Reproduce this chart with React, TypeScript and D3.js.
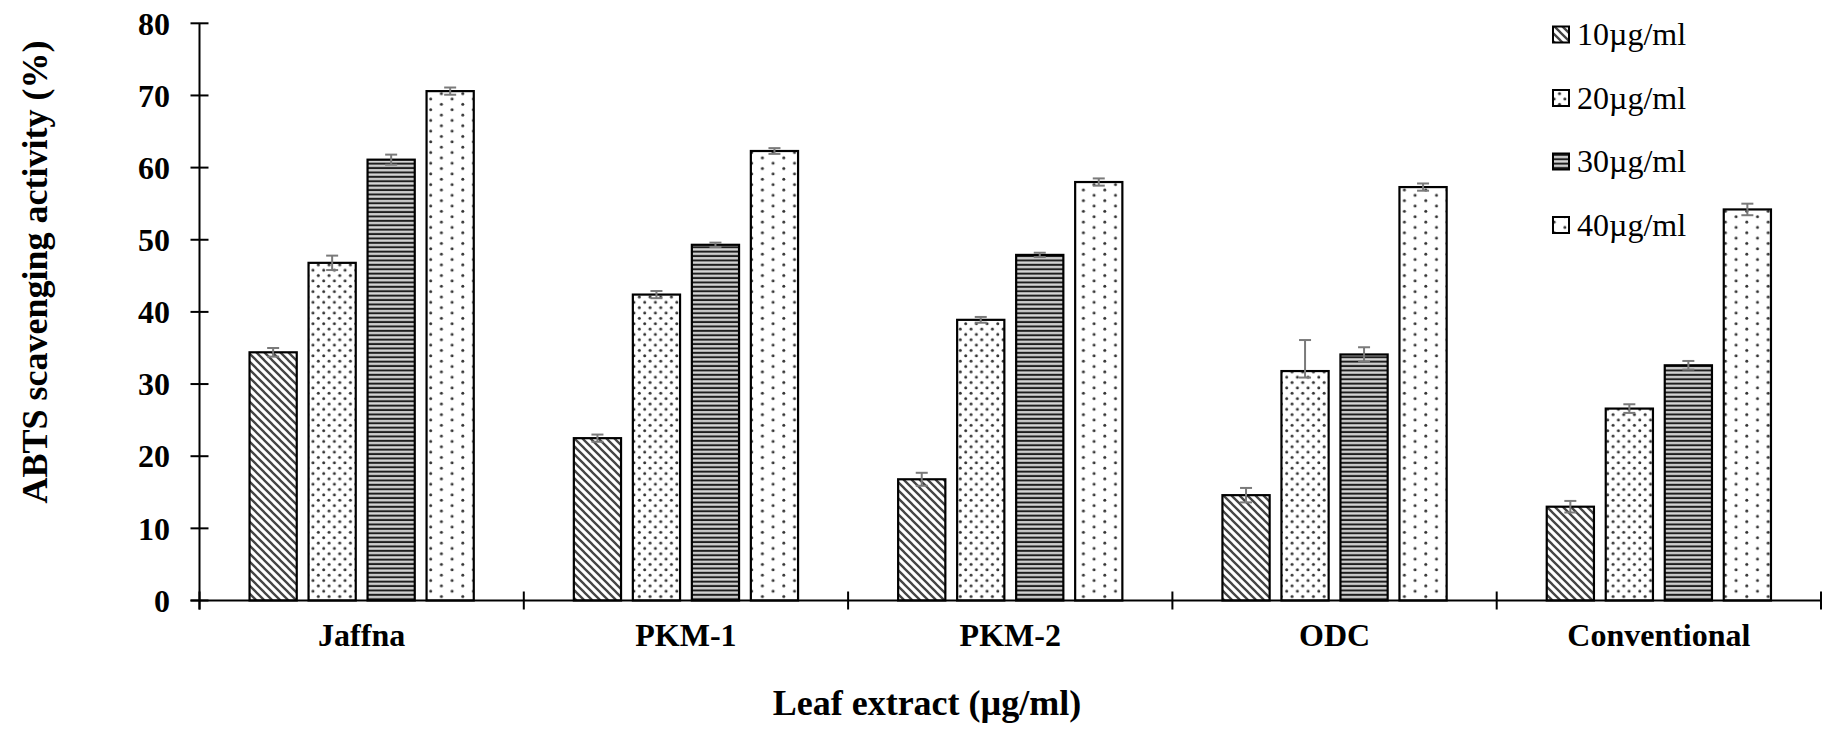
import React from "react";
import * as d3 from "d3";

const categories = ["Jaffna", "PKM-1", "PKM-2", "ODC", "Conventional"];
const series = ["10µg/ml", "20µg/ml", "30µg/ml", "40µg/ml"];

// values per concentration, one entry per leaf extract
const v10 = [34.4, 22.5, 16.8, 14.6, 13.0];
const v20 = [46.8, 42.4, 38.9, 31.8, 26.6];
const v30 = [61.1, 49.3, 47.9, 34.1, 32.6];
const v40 = [70.6, 62.3, 58.0, 57.3, 54.2];

// error bars (plus / minus)
const e10Plus = [0.6, 0.5, 0.9, 1.0, 0.8];
const e20Plus = [1.0, 0.5, 0.4, 4.3, 0.6];
const e30Plus = [0.7, 0.3, 0.3, 1.0, 0.6];
const e40Plus = [0.5, 0.4, 0.5, 0.5, 0.8];
const e10Minus = [0.6, 0.5, 0.9, 1.0, 0.8];
const e20Minus = [1.0, 0.5, 0.4, 0.9, 0.6];
const e30Minus = [0.7, 0.3, 0.3, 1.0, 0.6];
const e40Minus = [0.5, 0.4, 0.5, 0.5, 0.8];

const yTicks = [0, 10, 20, 30, 40, 50, 60, 70, 80];

const values = [v10, v20, v30, v40];
const errPlus = [e10Plus, e20Plus, e30Plus, e40Plus];
const errMinus = [e10Minus, e20Minus, e30Minus, e40Minus];
const patternIds = ["p10", "p20", "p30", "p40"];

const font = "'Liberation Serif', 'Times New Roman', serif";

export default function App() {
  const left = 199.5;
  const right = 1821;
  const y0 = 600.5;
  const yTop = 23.3;

  const x = d3.scaleBand<string>().domain(categories).range([left, right]);
  const inner = d3
    .scaleBand<string>()
    .domain(series)
    .range([0, x.bandwidth()])
    .paddingInner(0.2)
    .paddingOuter(0.848);
  const y = d3.scaleLinear().domain([0, 80]).range([y0, yTop]);

  const bw = inner.bandwidth();

  return (
    <>
      <style>{`body{margin:0}`}</style>
      <svg width={1832} height={729} style={{ display: "block", background: "#fff", fontFamily: font }}>
        <defs>
          <pattern id="p10" patternUnits="userSpaceOnUse" width={8} height={8}>
            <rect width={8} height={8} fill="#fff" />
            <path d="M-2,-2 L10,10 M-2,6 L2,10 M6,-2 L10,2" stroke="#444" strokeWidth={2.3} />
          </pattern>
          <pattern id="p20" patternUnits="userSpaceOnUse" width={10.7} height={10.7}>
            <rect width={10.7} height={10.7} fill="#fff" />
            <circle cx={2.7} cy={2.7} r={1.5} fill="#333" />
            <circle cx={8.05} cy={8.05} r={1.5} fill="#333" />
          </pattern>
          <pattern id="p30" patternUnits="userSpaceOnUse" width={8} height={4.4}>
            <rect width={8} height={4.4} fill="#fff" />
            <rect y={0} width={8} height={2} fill="#1e1e1e" />
            <rect y={3.1} width={8} height={1.3} fill="#aaa" />
          </pattern>
          <pattern id="p40" patternUnits="userSpaceOnUse" width={21.4} height={10.7}>
            <rect width={21.4} height={10.7} fill="#fff" />
            <circle cx={2.7} cy={2.7} r={1.5} fill="#333" />
            <circle cx={13.4} cy={8.05} r={1.5} fill="#333" />
          </pattern>
        </defs>

        {/* bars */}
        {series.map((s, si) => (
          <g key={s}>
            {categories.map((c, ci) => {
              const bx = (x(c) ?? 0) + (inner(s) ?? 0);
              const v = values[si][ci];
              return (
                <rect
                  key={c}
                  x={bx}
                  y={y(v)}
                  width={bw}
                  height={y(0) - y(v)}
                  fill={`url(#${patternIds[si]})`}
                  stroke="#000"
                  strokeWidth={2.2}
                />
              );
            })}
          </g>
        ))}

        {/* error bars */}
        {series.map((s, si) => (
          <g key={s} stroke="#7a7a7a" strokeWidth={2}>
            {categories.map((c, ci) => {
              const cx = (x(c) ?? 0) + (inner(s) ?? 0) + bw / 2;
              const v = values[si][ci];
              const hi = y(v + errPlus[si][ci]);
              const lo = y(v - errMinus[si][ci]);
              return (
                <g key={c}>
                  <line x1={cx} x2={cx} y1={hi} y2={lo} />
                  <line x1={cx - 6} x2={cx + 6} y1={hi} y2={hi} />
                  <line x1={cx - 6} x2={cx + 6} y1={lo} y2={lo} />
                </g>
              );
            })}
          </g>
        ))}

        {/* y axis */}
        <line x1={left} x2={left} y1={yTop} y2={y0 + 9} stroke="#000" strokeWidth={2} />
        {yTicks.map((t) => (
          <g key={t}>
            <line x1={left - 9} x2={left + 9} y1={y(t)} y2={y(t)} stroke="#000" strokeWidth={2} />
            <text
              x={170}
              y={y(t)}
              dy="0.35em"
              textAnchor="end"
              fontSize={32}
              fontWeight="bold"
            >
              {t}
            </text>
          </g>
        ))}

        {/* x axis */}
        <line x1={left - 9} x2={right} y1={y0} y2={y0} stroke="#000" strokeWidth={2} />
        {[...categories.map((c) => x(c) ?? 0), right].map((tx, i) => (
          <line key={i} x1={tx} x2={tx} y1={y0 - 9} y2={y0 + 9} stroke="#000" strokeWidth={2} />
        ))}
        {categories.map((c) => (
          <text
            key={c}
            x={(x(c) ?? 0) + x.bandwidth() / 2}
            y={646}
            textAnchor="middle"
            fontSize={32}
            fontWeight="bold"
          >
            {c}
          </text>
        ))}

        {/* axis titles */}
        <text x={927} y={715} textAnchor="middle" fontSize={36} fontWeight="bold">
          Leaf extract (µg/ml)
        </text>
        <text
          transform={`translate(47,272) rotate(-90)`}
          textAnchor="middle"
          fontSize={36}
          fontWeight="bold"
        >
          ABTS scavenging activity (%)
        </text>

        {/* legend */}
        {series.map((s, si) => {
          const cy = 34.5 + si * 63.5;
          return (
            <g key={s}>
              <rect
                x={1553}
                y={cy - 8}
                width={16}
                height={16}
                fill={`url(#${patternIds[si]})`}
                stroke="#000"
                strokeWidth={2}
              />
              <text x={1577} y={cy + 10.5} fontSize={32}>
                {s}
              </text>
            </g>
          );
        })}
      </svg>
    </>
  );
}
